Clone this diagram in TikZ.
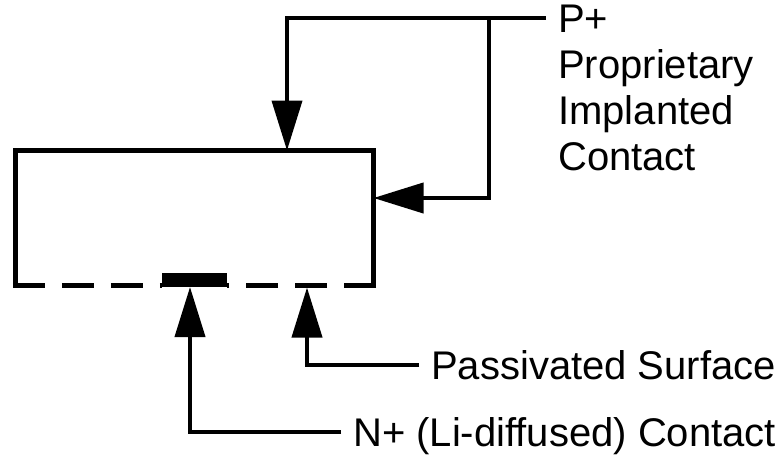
\documentclass[tikz,border=0pt]{standalone}
\usepackage{fontspec}
\setmainfont{Liberation Sans}
\usetikzlibrary{arrows.meta}

\begin{document}
\begin{tikzpicture}[x=1pt,y=-1pt]

      \useasboundingbox (0,0) rectangle (782,460);

      \begin{scope}[every node/.style={anchor=west,inner xsep=12pt,inner ysep=0pt,
          text height=28.6pt,text depth=0pt,font=\fontsize{40}{46}\selectfont}]
        \node (pplus)  at (546,18.5)  {P+};
        \node (prop)   at (546,64.5)  {Proprietary};
        \node (impl)   at (546,110.5) {Implanted};
        \node (cont)   at (546,156.5) {Contact};
        \node (passiv) at (419,365)   {Passivated Surface};
        \node (nplus)  at (341,432)   {N+ (Li-diffused) Contact};
      \end{scope}

      \begin{scope}[every node/.style={inner sep=0pt}]
        \node (det)   [minimum width=358pt,minimum height=134.5pt] at (194.5,217.75) {};
        \node (ncont) [fill,minimum width=65pt,minimum height=14pt] at (194.5,280) {};
      \end{scope}

      \coordinate (ptop)  at (287,150.5);
      \coordinate (pside) at (373.5,198);
      \coordinate (junc)  at (489,18.5);
      \coordinate (psurf) at (307,287.5);
      \coordinate (nend)  at (190,287);

      % detector body, dashed bottom
      \begin{scope}[line width=5pt]
        \draw (det.south west) -- (det.north west) -- (det.north east) -- (det.south east);
        \draw[dash pattern=on 32pt off 17pt] ([xshift=-2.5pt]det.south west) -- (ncont.west |- det.south);
        \draw[dash pattern=on 32pt off 17pt] ([xshift=2.5pt]det.south east) -- (ncont.east |- det.south);
      \end{scope}

      \begin{scope}[every path/.style={line width=4pt,-{Triangle[length=50pt,width=30pt]}}]
        \draw (pplus.west) -| (ptop);
        \draw (junc) |- (pside);
        \draw (passiv.west) -| (psurf);
        \draw (nplus.west) -| (nend);
      \end{scope}

    \end{tikzpicture}
\end{document}
